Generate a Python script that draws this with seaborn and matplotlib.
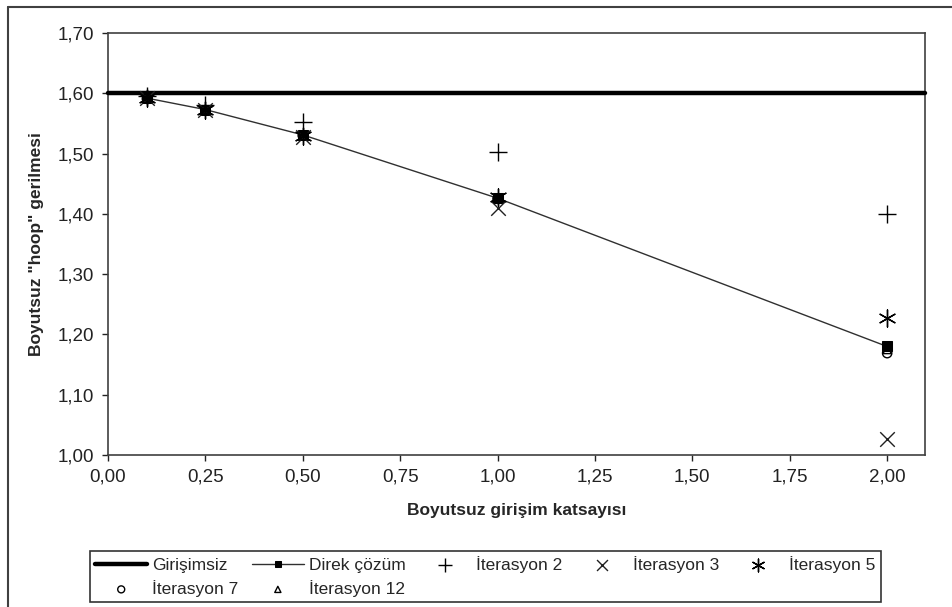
import matplotlib
matplotlib.use("Agg")
import matplotlib.pyplot as plt
import matplotlib.lines as mlines
import seaborn as sns
import pandas as pd

# veriler
x_vals = [0.10, 0.25, 0.50, 1.00, 2.00]
girisimsiz = 1.60
direk = [1.592, 1.573, 1.531, 1.426, 1.180]
iter2 = [1.595, 1.580, 1.553, 1.502, 1.400]
iter3 = [1.592, 1.572, 1.528, 1.410, 1.026]
iter5 = [1.592, 1.572, 1.530, 1.428, 1.228]
iter7 = [1.591, 1.572, 1.530, 1.425, 1.169]
iter12 = [1.591, 1.572, 1.530, 1.426, 1.175]

x_ticks = [0.0, 0.25, 0.5, 0.75, 1.0, 1.25, 1.5, 1.75, 2.0]
y_ticks = [1.0, 1.1, 1.2, 1.3, 1.4, 1.5, 1.6, 1.7]

df = pd.DataFrame({"x": x_vals, "direk": direk, "it2": iter2, "it3": iter3,
                   "it5": iter5, "it7": iter7, "it12": iter12})

sns.set_style("ticks")
plt.rcParams["font.family"] = ["Liberation Sans", "DejaVu Sans"]

fig = plt.figure(figsize=(9.52, 6.07), dpi=100)
ax = fig.add_axes([0.1134, 0.2504, 0.8582, 0.6952])

# Girişimsiz (yatay kalın çizgi)
ax.axhline(girisimsiz, color="black", lw=3.2, label="Girişimsiz", zorder=3,
           clip_on=False)

# Direk çözüm
sns.lineplot(data=df, x="x", y="direk", ax=ax, color="#303030", lw=1,
             marker="s", markersize=6.5, markeredgecolor="black",
             markerfacecolor="black", label="Direk çözüm", zorder=4)

# İterasyonlar
sns.scatterplot(data=df, x="x", y="it2", ax=ax, marker="+", s=170,
                color="black", linewidth=1, label="İterasyon 2", zorder=5)
sns.scatterplot(data=df, x="x", y="it3", ax=ax, marker="x", s=110,
                color="#202020", linewidth=1, label="İterasyon 3", zorder=5)
sns.scatterplot(data=df, x="x", y="it5", ax=ax, marker=(6, 2, 0), s=150,
                color="black", linewidth=1, label="İterasyon 5", zorder=5)
sns.scatterplot(data=df, x="x", y="it7", ax=ax, marker="o", s=45,
                facecolor="none", edgecolor="black", linewidth=1,
                label="İterasyon 7", zorder=5)
sns.scatterplot(data=df, x="x", y="it12", ax=ax, marker="^", s=35,
                facecolor="none", edgecolor="black", linewidth=1,
                label="İterasyon 12", zorder=5)

ax.set_xlim(0, 2.097)
ax.set_ylim(1.0, 1.7)
ax.set_xticks(x_ticks)
ax.set_xticklabels([f"{v:.2f}".replace(".", ",") for v in x_ticks])
ax.set_yticks(y_ticks)
ax.set_yticklabels([f"{v:.2f}".replace(".", ",") for v in y_ticks])
ax.tick_params(labelsize=13.5, colors="#222222", length=4, width=1,
               direction="out", pad=6)
for sp in ax.spines.values():
    sp.set_color("#404040")
    sp.set_linewidth(1.2)

ax.set_xlabel("Boyutsuz girişim katsayısı", fontsize=12.5, fontweight="bold",
              labelpad=12)
ax.set_ylabel('Boyutsuz "hoop" gerilmesi', fontsize=12.5, fontweight="bold",
              labelpad=10)

# lejant: 2 satır, satır sırası için yeniden düzen
h, l = ax.get_legend_handles_labels()
lab = dict(zip(l, h))
order = ["Girişimsiz", "İterasyon 7", "Direk çözüm", "İterasyon 12",
         "İterasyon 2", "İterasyon 3", "İterasyon 5"]
ax.legend_.remove()
leg = fig.legend([lab[k] for k in order], order, loc="lower left",
                 bbox_to_anchor=(0.0945, 0.008, 0.831, 0.111), mode="expand",
                 ncol=5, frameon=True, fancybox=False, edgecolor="black",
                 fontsize=12.5, handlelength=3, handletextpad=0.3,
                 borderaxespad=0, borderpad=0.3, labelspacing=0.4,
                 markerscale=0.75)
leg.get_frame().set_linewidth(1.2)

# dış çerçeve (üst ve sol)
fig.add_artist(mlines.Line2D([8 / 952, 1], [1 - 7 / 607, 1 - 7 / 607],
                             color="#404040", lw=1.5))
fig.add_artist(mlines.Line2D([8 / 952, 8 / 952], [0, 1 - 7 / 607],
                             color="#404040", lw=1.5))

fig.savefig("out.png", dpi=100)
